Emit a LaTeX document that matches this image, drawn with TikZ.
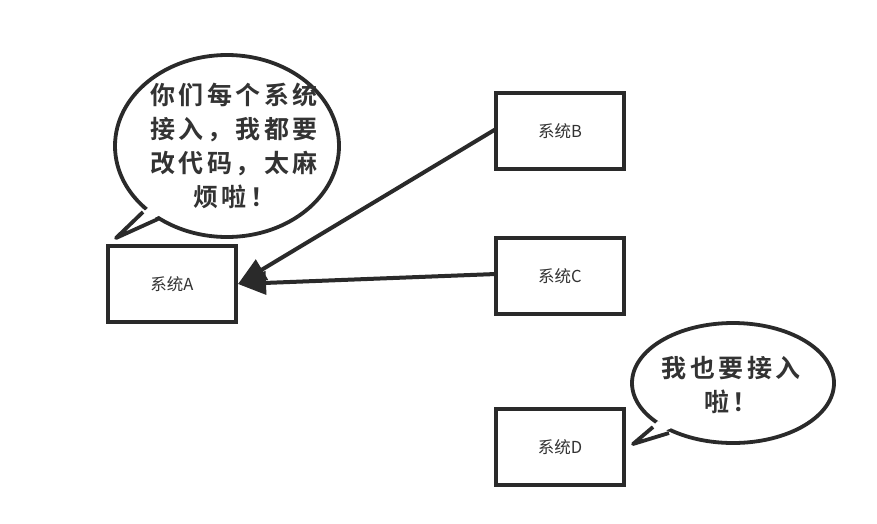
\documentclass[tikz,border=0pt]{standalone}
\usepackage{fontspec}
\setmainfont{Noto Sans CJK SC}
\newfontfamily\bubfont[LetterSpace=14]{Noto Sans CJK SC Bold}
\newfontfamily\boxfont{Noto Sans CJK SC}
\usetikzlibrary{arrows.meta}
\definecolor{ink}{HTML}{2A2A2A}
\definecolor{txt}{HTML}{333333}
\begin{document}
\begin{tikzpicture}[x=1pt,y=-1pt,
  sysbox/.style={draw=ink,line width=4pt,fill=white,minimum width=128pt,minimum height=76pt,
    inner sep=0pt,outer sep=0pt,font=\boxfont\fontsize{16.5}{18}\selectfont,text=txt},
  bubline/.style={draw=ink,line width=3.8pt,line join=round},
  bubtext/.style={align=center,text=txt,font=\bubfont\fontsize{25}{34}\selectfont,inner sep=0pt},
  conn/.style={draw=ink,line width=4pt,-{Triangle[length=28pt,width=23pt]}}]
\useasboundingbox (0,0) rectangle (877,523);
\fill[white] (0,0) rectangle (877,523);

% boxes
\node[sysbox] (A) at (172,284) {系统A};
\node[sysbox] (B) at (560,131) {系统B};
\node[sysbox] (C) at (560,276) {系统C};
\node[sysbox] (D) at (560,447) {系统D};

% connectors
\coordinate (Bout) at ([yshift=2pt]B.west);
\coordinate (Cout) at ([yshift=2pt]C.west);
\coordinate (Ain) at ([xshift=2pt]A.east);
\draw[conn] (Bout) -- (Ain);
\draw[conn] (Cout) -- (Ain);

% bubble 1
\path[bubline,fill=white] (227,146) ellipse [x radius=112pt,y radius=91pt];
\coordinate (t1a) at (143,212);
\coordinate (t1b) at (158,219);
\coordinate (t1tip) at (116,238);
\fill[white] (150,206) -- (t1tip) -- (164,213) -- cycle;
\draw[bubline] (t1a) -- (t1tip) -- (t1b);
\node[bubtext] (S1) at (234,146) {你们每个系统\\接入，我都要\\改代码，太麻\\烦啦！};

% bubble 2
\path[bubline,fill=white] (733,383) ellipse [x radius=101pt,y radius=60pt];
\coordinate (t2a) at (653,427);
\coordinate (t2b) at (669,433);
\coordinate (t2tip) at (633,444);
\fill[white] (658,421) -- (t2tip) -- (674,427) -- cycle;
\draw[bubline] (t2a) -- (t2tip) -- (t2b);
\node[bubtext] (S2) at (731,385) {我也要接入\\啦！};
\end{tikzpicture}
\end{document}
